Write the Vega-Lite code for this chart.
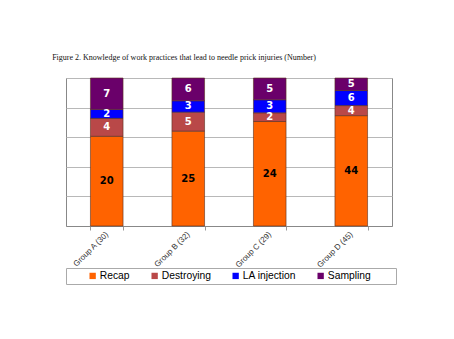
{
  "$schema": "https://vega.github.io/schema/vega-lite/v6.json",
  "width": 326,
  "height": 148,
  "autosize": {"type": "none"},
  "padding": {"left": 66, "top": 78, "right": 62, "bottom": 113},
  "background": "white",
  "title": {
    "text": "Figure 2. Knowledge of work practices that lead to needle prick injuries (Number)",
    "anchor": "start",
    "dx": -11,
    "offset": 10,
    "baseline": "alphabetic",
    "font": "Liberation Serif",
    "fontSize": 8,
    "fontWeight": "normal",
    "color": "#111"
  },
  "data": {
    "values": [
      {"group": "Group A (30)", "practice": "Recap", "value": 20, "order": 1},
      {"group": "Group A (30)", "practice": "Destroying", "value": 4, "order": 2},
      {"group": "Group A (30)", "practice": "LA injection", "value": 2, "order": 3},
      {"group": "Group A (30)", "practice": "Sampling", "value": 7, "order": 4},
      {"group": "Group B (32)", "practice": "Recap", "value": 25, "order": 1},
      {"group": "Group B (32)", "practice": "Destroying", "value": 5, "order": 2},
      {"group": "Group B (32)", "practice": "LA injection", "value": 3, "order": 3},
      {"group": "Group B (32)", "practice": "Sampling", "value": 6, "order": 4},
      {"group": "Group C (29)", "practice": "Recap", "value": 24, "order": 1},
      {"group": "Group C (29)", "practice": "Destroying", "value": 2, "order": 2},
      {"group": "Group C (29)", "practice": "LA injection", "value": 3, "order": 3},
      {"group": "Group C (29)", "practice": "Sampling", "value": 5, "order": 4},
      {"group": "Group D (45)", "practice": "Recap", "value": 44, "order": 1},
      {"group": "Group D (45)", "practice": "Destroying", "value": 4, "order": 2},
      {"group": "Group D (45)", "practice": "LA injection", "value": 6, "order": 3},
      {"group": "Group D (45)", "practice": "Sampling", "value": 5, "order": 4}
    ]
  },
  "transform": [
    {"stack": "value", "groupby": ["group"], "sort": [{"field": "order", "order": "ascending"}], "offset": "normalize", "as": ["y0", "y1"]},
    {"calculate": "(datum.y0 + datum.y1) / 2", "as": "ymid"}
  ],
  "encoding": {
    "x": {
      "field": "group",
      "type": "nominal",
      "sort": null,
      "title": null,
      "scale": {"paddingInner": 0.6, "paddingOuter": 0.3},
      "axis": {
        "labelAngle": -45,
        "labelAlign": "right",
        "labelBaseline": "middle",
        "labelFont": "Liberation Sans",
        "labelFontSize": 8,
        "labelColor": "#333",
        "labelPadding": 3,
        "tickBand": "extent",
        "tickSize": 4,
        "tickColor": "#999",
        "domainColor": "#888",
        "grid": false
      }
    }
  },
  "layer": [
    {
      "mark": {"type": "bar", "stroke": "#5a3020", "strokeWidth": 0.6},
      "encoding": {
        "y": {
          "field": "y0",
          "type": "quantitative",
          "scale": {"domain": [0, 1]},
          "axis": {
            "values": [0, 0.2, 0.4, 0.6, 0.8, 1],
            "labels": false,
            "ticks": false,
            "domain": false,
            "title": null,
            "grid": true,
            "gridColor": "#b8b8b8",
            "gridWidth": 1
          }
        },
        "y2": {"field": "y1"},
        "color": {
          "field": "practice",
          "type": "nominal",
          "scale": {
            "domain": ["Recap", "Destroying", "LA injection", "Sampling"],
            "range": ["#FF6300", "#B94848", "#0000FF", "#6A006A"]
          },
          "legend": {
            "orient": "none",
            "legendX": 0,
            "legendY": 190,
            "direction": "horizontal",
            "title": " ",
            "titleOrient": "right",
            "titlePadding": 23,
            "titleFontSize": 8,
            "symbolType": "square",
            "symbolSize": 40,
            "symbolStrokeWidth": 0,
            "symbolOffset": 19,
            "labelOffset": 2,
            "columnPadding": 0,
            "labelFont": "Liberation Sans",
            "labelFontSize": 10.3,
            "labelColor": "#000",
            "strokeColor": "#aaa",
            "padding": 2.5
          }
        },
        "order": {"field": "order", "type": "quantitative"}
      }
    },
    {
      "mark": {"type": "text", "font": "DejaVu Sans", "fontWeight": "bold", "fontSize": 10, "baseline": "middle"},
      "encoding": {
        "y": {
          "field": "ymid",
          "type": "quantitative",
          "scale": {"domain": [0, 1]},
          "axis": {
            "values": [0, 0.2, 0.4, 0.6, 0.8, 1],
            "labels": false,
            "ticks": false,
            "domain": false,
            "title": null,
            "grid": true,
            "gridColor": "#b8b8b8",
            "gridWidth": 1
          }
        },
        "text": {"field": "value", "type": "quantitative"},
        "color": {
          "condition": {"test": "datum.practice === 'Recap'", "value": "#000"},
          "value": "#fff"
        }
      }
    }
  ],
  "config": {
    "view": {"stroke": "#888", "strokeWidth": 1}
  }
}
